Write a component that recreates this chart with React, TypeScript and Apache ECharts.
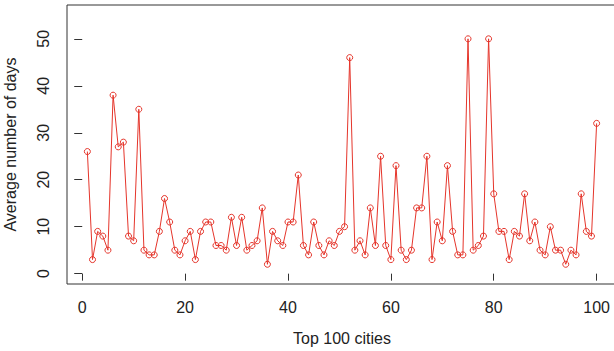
import React, { useEffect, useRef } from "react";
import * as echarts from "echarts";

const cities: number[] = Array.from({ length: 100 }, (_, i) => i + 1);
const avgDays: number[] = [
  26, 3, 9, 8, 5, 38, 27, 28, 8, 7,
  35, 5, 4, 4, 9, 16, 11, 5, 4, 7,
  9, 3, 9, 11, 11, 6, 6, 5, 12, 6,
  12, 5, 6, 7, 14, 2, 9, 7, 6, 11,
  11, 21, 6, 4, 11, 6, 4, 7, 6, 9,
  10, 46, 5, 7, 4, 14, 6, 25, 6, 3,
  23, 5, 3, 5, 14, 14, 25, 3, 11, 7,
  23, 9, 4, 4, 50, 5, 6, 8, 50, 17,
  9, 9, 3, 9, 8, 17, 7, 11, 5, 4,
  10, 5, 5, 2, 5, 4, 17, 9, 8, 32,
];
const xTicks: number[] = [0, 20, 40, 60, 80, 100];
const yTicks: number[] = [0, 10, 20, 30, 40, 50];

export default function App() {
  const ref = useRef<HTMLDivElement>(null);
  useEffect(() => {
    if (!ref.current) return;
    const chart = echarts.init(ref.current, null, { renderer: "svg" });
    const font = "Liberation Sans, Arial, Helvetica, sans-serif";
    chart.setOption({
      animation: false,
      grid: {
        left: 67,
        top: 5,
        width: 550,
        height: 279,
        show: true,
        borderColor: "#333",
        borderWidth: 1,
        backgroundColor: "transparent",
        containLabel: false,
        outerBoundsMode: "none",
      },
      xAxis: {
        type: "value",
        min: -2.96,
        max: 103.96,
        name: "Top 100 cities",
        nameLocation: "middle",
        nameGap: 46,
        nameTextStyle: { fontFamily: font, fontSize: 16, color: "#222" },
        axisLine: { show: false },
        axisTick: { show: true, inside: false, length: 7, customValues: xTicks, lineStyle: { color: "#333" } },
        axisLabel: { customValues: xTicks, margin: 15, fontFamily: font, fontSize: 16, color: "#222" },
        splitLine: { show: false },
      },
      yAxis: {
        type: "value",
        min: -2.2,
        max: 57.2,
        name: "Average number of days",
        nameLocation: "middle",
        nameGap: 49,
        nameRotate: 90,
        nameTextStyle: { fontFamily: font, fontSize: 16, color: "#222" },
        axisLine: { show: false },
        axisTick: { show: true, inside: false, length: 8, customValues: yTicks, lineStyle: { color: "#333" } },
        axisLabel: {
          customValues: yTicks,
          rotate: 90,
          margin: 16,
          fontFamily: font,
          fontSize: 16,
          color: "#222",
          align: "center",
          verticalAlign: "bottom",
        },
        splitLine: { show: false },
      },
      series: [
        {
          type: "line",
          data: cities.map((c, i) => [c, avgDays[i]]),
          symbol: "circle",
          symbolSize: 6,
          showSymbol: true,
          lineStyle: { color: "#e5352b", width: 1 },
          itemStyle: { color: "transparent", borderColor: "#e5352b", borderWidth: 1 },
        },
      ],
    });
    return () => chart.dispose();
  }, []);
  return <div ref={ref} style={{ width: 614, height: 351, position: "absolute", left: 0, top: 0 }} />;
}
